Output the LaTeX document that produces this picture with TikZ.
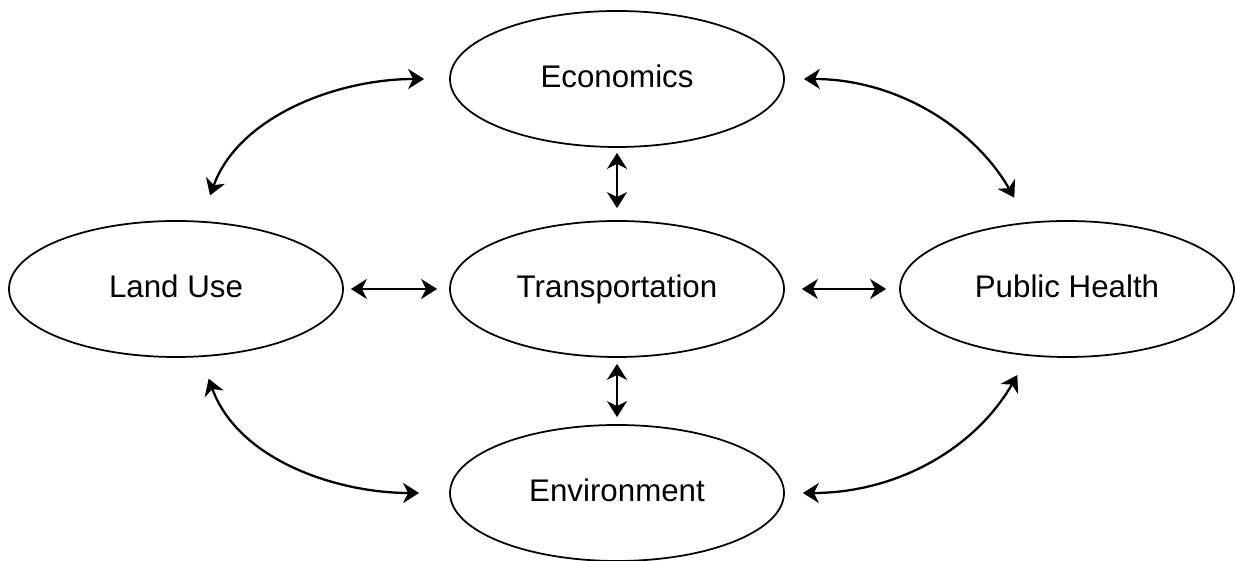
\documentclass[tikz,border=0pt]{standalone}
\usepackage{fontspec}
\setmainfont{Liberation Sans}
\usepackage{tikz}
\usetikzlibrary{shapes.geometric}
\usetikzlibrary{arrows.meta}

\begin{document}
\begin{tikzpicture}[
    topic/.style={shape=ellipse, draw=black, line width=0.5pt, minimum width=3.34cm, minimum height=1.36cm, inner sep=0pt, text height=0.72em, text depth=0.21em, font=\fontsize{8.9}{10}\selectfont},
    link/.style={{Stealth[length=1.6mm,width=2mm,inset=0.5mm]}-{Stealth[length=1.6mm,width=2mm,inset=0.5mm]}, line width=0.65pt}]
      \useasboundingbox (0,0) rectangle (12.36,-5.61);
      \node (econ) [topic] at (6.17,-0.79) {Economics};
      \node (land) [topic] at (1.76,-2.89) {Land Use};
      \node (trans) [topic] at (6.17,-2.89) {Transportation};
      \node (health) [topic] at (10.67,-2.89) {Public Health};
      \node (env) [topic] at (6.17,-4.93) {Environment};
      % straight links around the centre
      \draw [link, shorten <=0.07cm, shorten >=0.12cm] (land) -- (trans);
      \draw [link, shorten <=0.17cm, shorten >=0.13cm] (trans) -- (health);
      \draw [link, shorten <=0.05cm, shorten >=0.12cm] (econ) -- (trans);
      \draw [link, shorten <=0.06cm, shorten >=0.07cm] (trans) -- (env);
      % curved links on the outside
      \draw [link, shorten <=0.27cm, shorten >=0.25cm] (land) to [out=70, in=180] (econ);
      \draw [link, shorten <=0.19cm, shorten >=0.28cm] (econ) to [out=0, in=120] (health);
      \draw [link, shorten <=0.23cm, shorten >=0.30cm] (land) to [out=-70, in=180] (env);
      \draw [link, shorten <=0.18cm, shorten >=0.22cm] (env) to [out=0, in=-120] (health);
    \end{tikzpicture}
\end{document}
